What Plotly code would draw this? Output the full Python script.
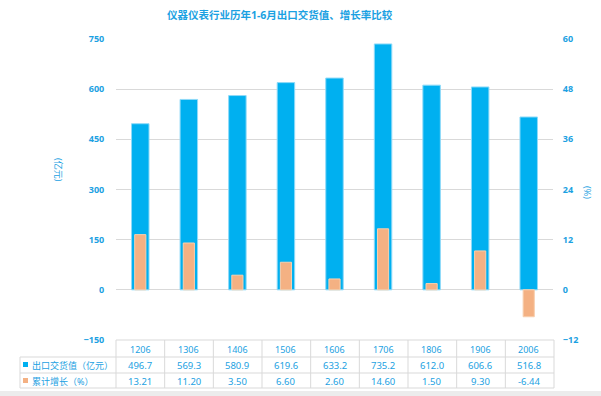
import plotly.graph_objects as go

categories = ["1206", "1306", "1406", "1506", "1606", "1706", "1806", "1906", "2006"]
export_value = [496.7, 569.3, 580.9, 619.6, 633.2, 735.2, 612.0, 606.6, 516.8]
growth_rate = [13.21, 11.20, 3.50, 6.60, 2.60, 14.60, 1.50, 9.30, -6.44]
value_labels = ["496.7", "569.3", "580.9", "619.6", "633.2", "735.2", "612.0", "606.6", "516.8"]
growth_labels = ["13.21", "11.20", "3.50", "6.60", "2.60", "14.60", "1.50", "9.30", "-6.44"]
series_names = ["出口交货值（亿元）", "累计增长（%）"]
title_text = "仪器仪表行业历年1-6月出口交货值、增长率比较"

W, H = 601, 396
L, R, T, B = 116, 48, 39, 56
PW, PH = W - L - R, H - T - B
BLUE = "#00b0f0"
ORANGE = "#f4b183"
TXT = "#1ba1e2"
GRID = "#d9d9d9"
FONT = "Noto Sans, Noto Sans CJK SC"


def px(x):
    return (x - L) / PW


def py(y):
    return (H - B - y) / PH


fig = go.Figure()
fig.add_trace(go.Bar(
    x=categories, y=export_value, name=series_names[0], width=0.36,
    marker=dict(color=BLUE, line=dict(color="#8fdaf8", width=1)),
    yaxis="y", hoverinfo="skip",
))
fig.add_trace(go.Bar(
    x=categories, y=growth_rate, name=series_names[1], width=0.23,
    marker=dict(color=ORANGE, line=dict(color="#f8cfae", width=1)),
    yaxis="y2", hoverinfo="skip",
))

shapes = []
annotations = []

# table lines
row_y = [340, 357, 373, 388]
shapes.append(dict(type="line", xref="paper", yref="paper", x0=px(116), x1=px(554), y0=py(340), y1=py(340),
                   line=dict(color=GRID, width=1)))
for yy in row_y[1:]:
    shapes.append(dict(type="line", xref="paper", yref="paper", x0=px(20), x1=px(554), y0=py(yy), y1=py(yy),
                       line=dict(color=GRID, width=1)))
shapes.append(dict(type="line", xref="paper", yref="paper", x0=px(20), x1=px(20), y0=py(357), y1=py(388),
                   line=dict(color=GRID, width=1)))
n = len(categories)
for k in range(n + 1):
    xx = 116 + k * (554 - 116) / n
    shapes.append(dict(type="line", xref="paper", yref="paper", x0=px(xx), x1=px(xx), y0=py(340), y1=py(388),
                       line=dict(color=GRID, width=1)))
# legend squares
shapes.append(dict(type="rect", xref="paper", yref="paper", x0=px(23), x1=px(28), y0=py(362), y1=py(367),
                   fillcolor=BLUE, line=dict(width=0)))
shapes.append(dict(type="rect", xref="paper", yref="paper", x0=px(23), x1=px(28), y0=py(378), y1=py(383),
                   fillcolor=ORANGE, line=dict(width=0)))
# bottom gray strip
shapes.append(dict(type="rect", xref="paper", yref="paper", x0=px(0), x1=px(601), y0=py(396), y1=py(391),
                   fillcolor="#ececec", line=dict(width=0)))

cell_font = dict(size=9.5, color=TXT, family=FONT)
for i, c in enumerate(categories):
    annotations.append(dict(x=i, y=py(349), xref="x", yref="paper", text=c, showarrow=False,
                            xanchor="center", yanchor="middle", font=dict(size=9, color=TXT, family=FONT)))
    annotations.append(dict(x=i, y=py(365), xref="x", yref="paper", text=value_labels[i], showarrow=False,
                            xanchor="center", yanchor="middle", font=cell_font))
    annotations.append(dict(x=i, y=py(381), xref="x", yref="paper", text=growth_labels[i], showarrow=False,
                            xanchor="center", yanchor="middle", font=cell_font))

annotations.append(dict(x=px(30), y=py(365), xref="paper", yref="paper", text=series_names[0], showarrow=False,
                        xanchor="left", yanchor="middle", font=dict(size=9, color=TXT, family=FONT)))
annotations.append(dict(x=px(30), y=py(381), xref="paper", yref="paper", text=series_names[1], showarrow=False,
                        xanchor="left", yanchor="middle", font=dict(size=9, color=TXT, family=FONT)))

# axis titles
annotations.append(dict(x=px(59), y=py(170), xref="paper", yref="paper", text="(亿元)", textangle=90,
                        xanchor="center", yanchor="middle",
                        showarrow=False, font=dict(size=9, color=TXT, family=FONT)))
annotations.append(dict(x=px(588), y=py(192), xref="paper", yref="paper", text="(%)", textangle=90,
                        xanchor="center", yanchor="middle",
                        showarrow=False, font=dict(size=9, color=TXT, family=FONT)))

# title
annotations.append(dict(x=px(280), y=py(15), xref="paper", yref="paper", text="<b>" + title_text + "</b>",
                        xanchor="center", yanchor="middle",
                        showarrow=False, font=dict(size=10.5, color=TXT, family=FONT)))

tick_font = dict(size=9, color=TXT, family=FONT, weight="bold")
fig.update_layout(
    width=W, height=H,
    margin=dict(l=L, r=R, t=T, b=B, pad=0),
    paper_bgcolor="white", plot_bgcolor="white",
    barmode="overlay",
    showlegend=False,
    font=dict(family=FONT, color=TXT),
    xaxis=dict(type="category", range=[-0.5, n - 0.5], showticklabels=False, showgrid=False,
               zeroline=False, showline=False, ticks=""),
    yaxis=dict(range=[-150, 750], dtick=150, tick0=-150, showgrid=True, gridcolor=GRID, gridwidth=1,
               zeroline=False, showline=False, ticks="outside", ticklen=9, tickcolor="rgba(0,0,0,0)",
               tickfont=tick_font),
    yaxis2=dict(range=[-12, 60], dtick=12, tick0=-12, overlaying="y", side="right", showgrid=False,
                zeroline=False, showline=False, ticks="outside", ticklen=7, tickcolor="rgba(0,0,0,0)",
                tickfont=tick_font),
    shapes=shapes,
    annotations=annotations,
)

fig.write_html("out.html", config={"displayModeBar": False, "staticPlot": True},
               post_script="document.body.style.margin='0';document.body.style.padding='0';")
